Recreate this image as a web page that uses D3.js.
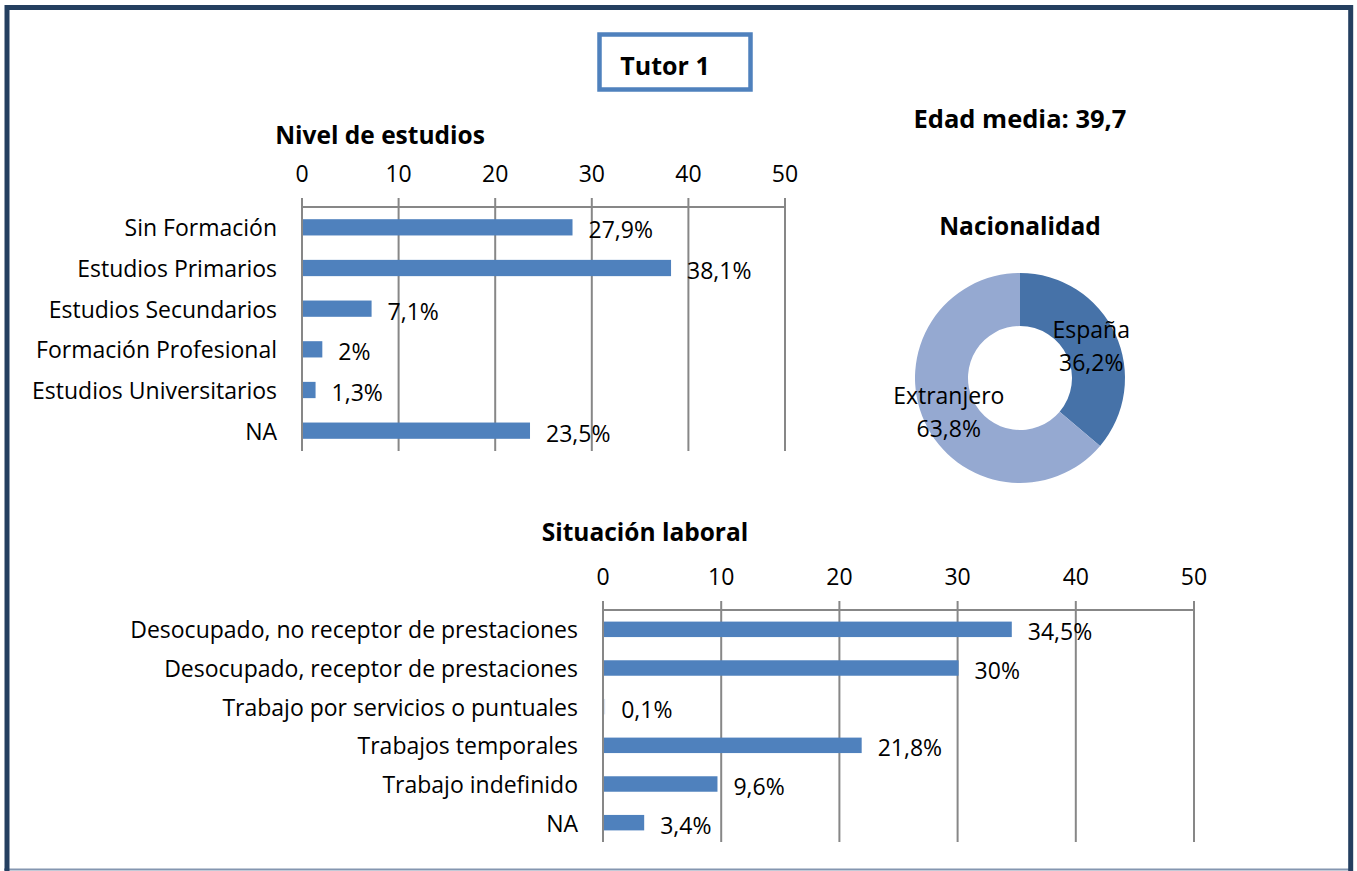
<!DOCTYPE html>
<html>
<head>
<meta charset="utf-8">
<script src="https://cdn.jsdelivr.net/npm/d3@7"></script>
<style>
body { margin: 0; background: #fff; }
text { font-family: "Open Sans", sans-serif; fill: #000; }
</style>
</head>
<body>
<script>
var width = 1357,
    height = 871;

// data
var estudiosCats = ['Sin Formación', 'Estudios Primarios', 'Estudios Secundarios',
    'Formación Profesional', 'Estudios Universitarios', 'NA'];
var estudiosVals = [27.9, 38.1, 7.1, 2, 1.3, 23.5];

var laboralCats = ['Desocupado, no receptor de prestaciones', 'Desocupado, receptor de prestaciones',
    'Trabajo por servicios o puntuales', 'Trabajos temporales', 'Trabajo indefinido', 'NA'];
var laboralVals = [34.5, 30, 0.1, 21.8, 9.6, 3.4];

var nacCats = ['España', 'Extranjero'];
var nacVals = [36.2, 63.8];
var nacColors = ['#4672a8', '#95a9d1'];

var axisTicks = [0, 10, 20, 30, 40, 50];

var fmt = function (v) { return String(v).replace('.', ',') + '%'; };

var fs = 23,      // regular text
    fsBold = 24.5; // titles

var svg = d3.select('body').append('svg')
    .attr('width', width)
    .attr('height', height);

// frame
svg.append('rect').attr('width', width).attr('height', height).attr('fill', '#fff');
svg.append('line').attr('x1', 4).attr('x2', 1353).attr('y1', 869.5).attr('y2', 869.5)
    .attr('stroke', '#8496b0').attr('stroke-width', 2);
svg.append('path')
    .attr('d', 'M7,871V7.5H1350.7V871')
    .attr('fill', 'none').attr('stroke', '#243f60').attr('stroke-width', 5);

// title box
svg.append('rect').attr('x', 599.5).attr('y', 34.5).attr('width', 151).attr('height', 55)
    .attr('fill', 'none').attr('stroke', '#4f81bd').attr('stroke-width', 4.5);
svg.append('text').attr('x', 665).attr('y', 65).attr('text-anchor', 'middle')
    .attr('dominant-baseline', 'central').attr('font-weight', 'bold').attr('font-size', 25)
    .text('Tutor 1');

function barChart(cats, vals, x0, x1, y0, y1, title, titleX, titleY) {
    var x = d3.scaleLinear().domain([0, 50]).range([x0, x1]);
    var y = d3.scaleBand().domain(cats).range([y0, y1]).paddingInner(0.6).paddingOuter(0.3);
    var g = svg.append('g');

    g.append('text').attr('x', titleX).attr('y', titleY).attr('text-anchor', 'middle')
        .attr('dominant-baseline', 'central').attr('font-weight', 'bold').attr('font-size', fsBold)
        .text(title);

    // grid + ticks
    g.selectAll('line.grid').data(axisTicks).enter().append('line')
        .attr('class', 'grid')
        .attr('x1', function (d) { return x(d); }).attr('x2', function (d) { return x(d); })
        .attr('y1', y0 - 9).attr('y2', y1)
        .attr('stroke', '#878787').attr('stroke-width', 2);
    g.append('line').attr('x1', x0).attr('x2', x1).attr('y1', y0).attr('y2', y0)
        .attr('stroke', '#878787').attr('stroke-width', 2);
    g.selectAll('text.tick').data(axisTicks).enter().append('text')
        .attr('class', 'tick')
        .attr('x', function (d) { return x(d); }).attr('y', y0 - 34)
        .attr('text-anchor', 'middle').attr('dominant-baseline', 'central')
        .attr('font-size', fs)
        .text(function (d) { return d; });

    // category labels
    g.selectAll('text.cat').data(cats).enter().append('text')
        .attr('class', 'cat')
        .attr('x', x0 - 25).attr('y', function (d) { return y(d) + y.bandwidth() / 2; })
        .attr('text-anchor', 'end').attr('dominant-baseline', 'central')
        .attr('font-size', fs)
        .text(function (d) { return d; });

    // bars
    g.selectAll('rect.bar').data(vals).enter().append('rect')
        .attr('class', 'bar')
        .attr('x', x(0) + 1)
        .attr('y', function (d, i) { return y(cats[i]); })
        .attr('width', function (d) { return Math.max(x(d) - x(0), 1); })
        .attr('height', y.bandwidth())
        .attr('fill', function (d) { return d < 1 ? '#dbe5f1' : '#4f81bd'; });

    // value labels
    g.selectAll('text.val').data(vals).enter().append('text')
        .attr('class', 'val')
        .attr('x', function (d) { return x(d) + 17; })
        .attr('y', function (d, i) { return y(cats[i]) + y.bandwidth() / 2 + 2; })
        .attr('dominant-baseline', 'central')
        .attr('font-size', fs)
        .text(fmt);
}

barChart(estudiosCats, estudiosVals, 302, 785, 207, 451, 'Nivel de estudios', 380, 134);
barChart(laboralCats, laboralVals, 603, 1194, 610, 842, 'Situación laboral', 645, 531);

// edad media
svg.append('text').attr('x', 1020).attr('y', 118).attr('text-anchor', 'middle')
    .attr('dominant-baseline', 'central').attr('font-weight', 'bold').attr('font-size', 25.5)
    .text('Edad media: 39,7');

// donut
svg.append('text').attr('x', 1020).attr('y', 225).attr('text-anchor', 'middle')
    .attr('dominant-baseline', 'central').attr('font-weight', 'bold').attr('font-size', fsBold)
    .text('Nacionalidad');

var pie = d3.pie().sort(null).value(function (d) { return d; });
var arc = d3.arc().innerRadius(52).outerRadius(105);
var labelArc = d3.arc().innerRadius(78.5).outerRadius(78.5);
var donut = svg.append('g').attr('transform', 'translate(1020,378)');
var arcs = pie(nacVals);

donut.selectAll('path').data(arcs).enter().append('path')
    .attr('d', arc)
    .attr('fill', function (d, i) { return nacColors[i]; });

var lbl = donut.selectAll('g.lbl').data(arcs).enter().append('g')
    .attr('class', 'lbl')
    .attr('transform', function (d) { return 'translate(' + labelArc.centroid(d) + ')'; });
lbl.append('text').attr('y', -16).attr('text-anchor', 'middle').attr('dominant-baseline', 'central')
    .attr('font-size', fs)
    .text(function (d, i) { return nacCats[i]; });
lbl.append('text').attr('y', 17).attr('text-anchor', 'middle').attr('dominant-baseline', 'central')
    .attr('font-size', fs)
    .text(function (d) { return fmt(d.data); });
</script>
</body>
</html>
